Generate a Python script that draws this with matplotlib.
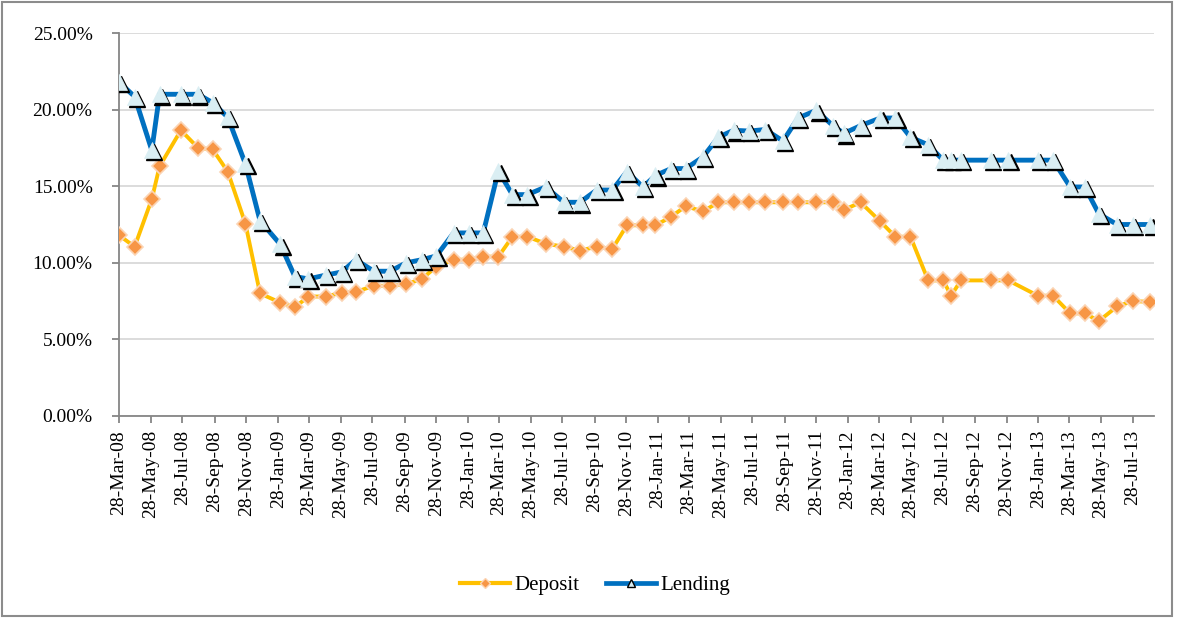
import pandas as pd
import matplotlib
matplotlib.use('Agg')
import matplotlib.pyplot as plt
import matplotlib.dates as mdates
from matplotlib.ticker import FuncFormatter
from matplotlib.transforms import ScaledTranslation
from matplotlib.lines import Line2D
from matplotlib.patches import Rectangle

plt.rcParams['font.family'] = ['Liberation Serif', 'DejaVu Serif']

dates = pd.to_datetime([
    '2008-03-28', '2008-04-27', '2008-05-30', '2008-06-14', '2008-07-25', '2008-08-27',
    '2008-09-24', '2008-10-23', '2008-11-26', '2008-12-24', '2009-02-01', '2009-03-01',
    '2009-03-27', '2009-04-30', '2009-05-30', '2009-06-26', '2009-07-31', '2009-08-31',
    '2009-10-01', '2009-10-31', '2009-11-28', '2009-12-31', '2010-01-29', '2010-02-26',
    '2010-03-27', '2010-04-23', '2010-05-22', '2010-06-26', '2010-07-31', '2010-08-31',
    '2010-10-02', '2010-11-01', '2010-11-29', '2010-12-30', '2011-01-23', '2011-02-22',
    '2011-03-22', '2011-04-24', '2011-05-24', '2011-06-22', '2011-07-22', '2011-08-22',
    '2011-09-25', '2011-10-24', '2011-11-28', '2011-12-30', '2012-01-20', '2012-02-21',
    '2012-03-30', '2012-04-28', '2012-05-27', '2012-06-30', '2012-07-29', '2012-08-13',
    '2012-09-01', '2012-10-28', '2012-12-01', '2013-01-27', '2013-02-25', '2013-03-30',
    '2013-04-27', '2013-05-24', '2013-06-28', '2013-07-28', '2013-08-31'])

deposit = [11.8, 11.05, 14.15, 16.3, 18.65, 17.5, 17.4, 15.95, 12.55, 8.0,
           7.4, 7.1, 7.8, 7.8, 8.05, 8.1, 8.5, 8.5, 8.6, 8.95,
           9.75, 10.2, 10.2, 10.4, 10.4, 11.7, 11.7, 11.25, 11.05, 10.8,
           11.05, 10.9, 12.45, 12.45, 12.45, 13.0, 13.7, 13.35, 13.95, 13.95,
           13.95, 13.95, 13.95, 13.95, 13.95, 13.95, 13.45, 13.95, 12.7, 11.7,
           11.7, 8.85, 8.85, 7.85, 8.85, 8.85, 8.85, 7.85, 7.85, 6.7,
           6.7, 6.2, 7.15, 7.5, 7.45]

lending = [21.8, 20.85, 17.35, 21.0, 21.0, 21.0, 20.45, 19.5, 16.45, 12.75,
           11.2, 9.1, 8.95, 9.2, 9.4, 10.2, 9.45, 9.45, 10.0, 10.2,
           10.45, 11.95, 11.95, 11.95, 16.0, 14.45, 14.45, 14.95, 13.95, 13.95,
           14.75, 14.75, 15.95, 14.95, 15.7, 16.15, 16.15, 16.9, 18.2, 18.65,
           18.6, 18.7, 17.95, 19.45, 19.95, 18.95, 18.45, 18.95, 19.45, 19.45,
           18.2, 17.7, 16.7, 16.7, 16.7, 16.7, 16.7, 16.7, 16.7, 14.95,
           14.95, 13.2, 12.5, 12.5, 12.5]

W, H = 1179, 618
fig = plt.figure(figsize=(W / 100, H / 100), dpi=100)
ax = fig.add_axes([119 / W, 1 - 416 / H, (1154 - 119) / W, (416 - 33) / H])

x = mdates.date2num(dates)

ax.plot(x, deposit, color='#FFC000', lw=2.8, solid_joinstyle='round',
        marker='D', ms=8.2, mfc='#F79646', mec='#FBD4B4', mew=1.2, zorder=3)
ax.plot(x, lending, color='#0070C0', lw=3.5, solid_joinstyle='round', zorder=4)

# triangle markers with a small black drop shadow, drawn point by point
shadow = ax.transData + ScaledTranslation(1.6 / 72, -1.6 / 72, fig.dpi_scale_trans)
for xi, v in zip(x, lending):
    ax.plot([xi], [v], ls='none', marker='^', ms=12, color='black',
            transform=shadow, zorder=5)
    ax.plot([xi], [v], ls='none', marker='^', ms=12, mfc='#DAEEF3',
            mec='#DAEEF3', mew=0.5, zorder=5)

ax.set_xlim(mdates.datestr2num('2008-03-28'), mdates.datestr2num('2013-09-07'))
ax.set_ylim(0, 25)
ax.set_yticks([0, 5, 10, 15, 20, 25])
ax.yaxis.set_major_formatter(FuncFormatter(lambda v, p: f'{v:.2f}%'))
ax.xaxis.set_major_locator(mdates.MonthLocator(bymonth=[1, 3, 5, 7, 9, 11], bymonthday=28))
ax.xaxis.set_major_formatter(mdates.DateFormatter('%d-%b-%y'))

ax.yaxis.grid(True, color='#D9D9D9', lw=1.3)
ax.set_axisbelow(True)
for s in ['top', 'right']:
    ax.spines[s].set_visible(False)
for s in ['left', 'bottom']:
    ax.spines[s].set_color('#868686')
    ax.spines[s].set_linewidth(1.3)

ax.tick_params(axis='both', direction='out', length=5, width=1.3,
               color='#868686', labelsize=14)
ax.tick_params(axis='y', pad=14)
ax.tick_params(axis='x', pad=5)
plt.setp(ax.get_xticklabels(), rotation=90, ha='center', va='top')

handles = [
    Line2D([], [], color='#FFC000', lw=3, marker='D', ms=5, mfc='#F79646', mec='#FBD4B4'),
    Line2D([], [], color='#0070C0', lw=3.4, marker='^', ms=6, mfc='#DAEEF3', mec='black', mew=1),
]
fig.legend(handles, ['Deposit', 'Lending'], loc='center', bbox_to_anchor=(595 / W, 1 - 585 / H),
           ncol=2, frameon=False, fontsize=15, handlelength=2.4, handletextpad=0.2,
           columnspacing=1.3)

fig.patches.append(Rectangle((2 / W, 2 / H), 1170 / W, 614 / H, transform=fig.transFigure,
                             fill=False, edgecolor='#8C8C8C', lw=1.5))

fig.savefig('out.png', dpi=100)
